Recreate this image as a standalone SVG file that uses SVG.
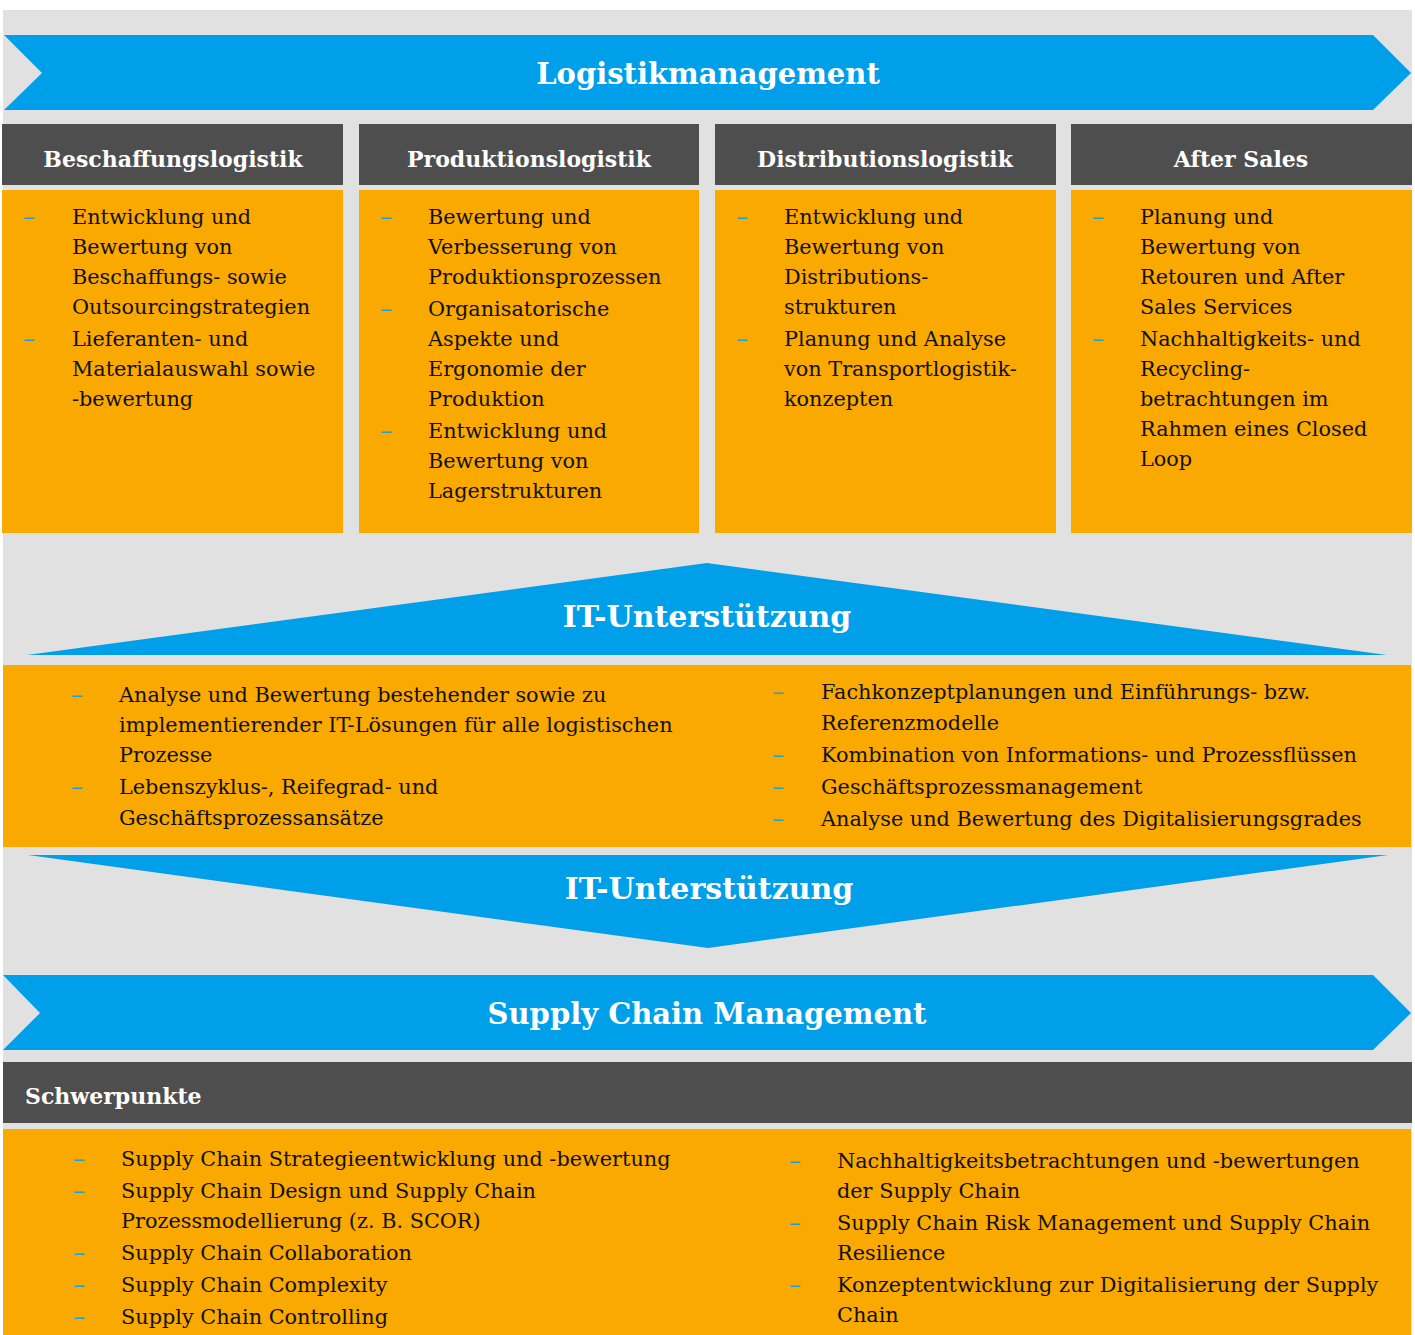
<svg xmlns="http://www.w3.org/2000/svg" width="1415" height="1335" viewBox="0 0 1415 1335">
<style>
.bg{fill:#e1e1e1}
.blue{fill:#009fe9}
.dark{fill:#4e4e4e}
.or{fill:#faa900}
.ttl{font-family:"DejaVu Serif",serif;font-weight:bold;fill:#ffffff;font-size:29px;text-anchor:middle}
.ttl2{font-family:"DejaVu Serif",serif;font-weight:bold;fill:#ffffff;font-size:30px;text-anchor:middle}
.hd{font-family:"DejaVu Serif",serif;font-weight:bold;fill:#ffffff;font-size:22px;text-anchor:middle}
.hdl{font-family:"DejaVu Serif",serif;font-weight:bold;fill:#ffffff;font-size:22px}
.t{font-family:"DejaVu Serif",serif;fill:#111111;font-size:20.8px}
.d{font-family:"DejaVu Serif",serif;fill:#1e9fd8;font-size:24px}
</style>
<rect class="bg" x="3" y="10" width="1409" height="1325"/>
<g id="logistikmanagement">
<polygon class="blue" points="4,35 1373,35 1411,73 1373,110 4,110 42,73"/>
<text class="ttl" x="708" y="84">Logistikmanagement</text>
</g>
<g id="beschaffungslogistik">
<rect class="dark" x="2" y="124" width="341" height="61"/>
<text class="hd" x="173" y="167">Beschaffungslogistik</text>
<rect class="or" x="2" y="190" width="341" height="343"/>
<text class="d" x="23" y="225">–</text>
<text class="t" x="72" y="224">Entwicklung und</text>
<text class="t" x="72" y="254">Bewertung von</text>
<text class="t" x="72" y="284">Beschaffungs- sowie</text>
<text class="t" x="72" y="314">Outsourcingstrategien</text>
<text class="d" x="23" y="347">–</text>
<text class="t" x="72" y="346">Lieferanten- und</text>
<text class="t" x="72" y="376">Materialauswahl sowie</text>
<text class="t" x="72" y="406">-bewertung</text>
</g>
<g id="produktionslogistik">
<rect class="dark" x="359" y="124" width="340" height="61"/>
<text class="hd" x="529" y="167">Produktionslogistik</text>
<rect class="or" x="359" y="190" width="340" height="343"/>
<text class="d" x="380" y="225">–</text>
<text class="t" x="428" y="224">Bewertung und</text>
<text class="t" x="428" y="254">Verbesserung von</text>
<text class="t" x="428" y="284">Produktionsprozessen</text>
<text class="d" x="380" y="317">–</text>
<text class="t" x="428" y="316">Organisatorische</text>
<text class="t" x="428" y="346">Aspekte und</text>
<text class="t" x="428" y="376">Ergonomie der</text>
<text class="t" x="428" y="406">Produktion</text>
<text class="d" x="380" y="439">–</text>
<text class="t" x="428" y="438">Entwicklung und</text>
<text class="t" x="428" y="468">Bewertung von</text>
<text class="t" x="428" y="498">Lagerstrukturen</text>
</g>
<g id="distributionslogistik">
<rect class="dark" x="715" y="124" width="341" height="61"/>
<text class="hd" x="885" y="167">Distributionslogistik</text>
<rect class="or" x="715" y="190" width="341" height="343"/>
<text class="d" x="736" y="225">–</text>
<text class="t" x="784" y="224">Entwicklung und</text>
<text class="t" x="784" y="254">Bewertung von</text>
<text class="t" x="784" y="284">Distributions-</text>
<text class="t" x="784" y="314">strukturen</text>
<text class="d" x="736" y="347">–</text>
<text class="t" x="784" y="346">Planung und Analyse</text>
<text class="t" x="784" y="376">von Transportlogistik-</text>
<text class="t" x="784" y="406">konzepten</text>
</g>
<g id="after-sales">
<rect class="dark" x="1071" y="124" width="341" height="61"/>
<text class="hd" x="1241" y="167">After Sales</text>
<rect class="or" x="1071" y="190" width="341" height="343"/>
<text class="d" x="1092" y="225">–</text>
<text class="t" x="1140" y="224">Planung und</text>
<text class="t" x="1140" y="254">Bewertung von</text>
<text class="t" x="1140" y="284">Retouren und After</text>
<text class="t" x="1140" y="314">Sales Services</text>
<text class="d" x="1092" y="347">–</text>
<text class="t" x="1140" y="346">Nachhaltigkeits- und</text>
<text class="t" x="1140" y="376">Recycling-</text>
<text class="t" x="1140" y="406">betrachtungen im</text>
<text class="t" x="1140" y="436">Rahmen eines Closed</text>
<text class="t" x="1140" y="466">Loop</text>
</g>
<g id="it-up">
<polygon class="blue" points="27,655 707,563 1387,655"/>
<text class="ttl2" x="707" y="627">IT-Unterstützung</text>
</g>
<g id="it-box">
<rect class="or" x="3" y="665" width="1408" height="182"/>
<text class="d" x="71" y="703">–</text>
<text class="t" x="119" y="702">Analyse und Bewertung bestehender sowie zu</text>
<text class="t" x="119" y="732">implementierender IT-Lösungen für alle logistischen</text>
<text class="t" x="119" y="762">Prozesse</text>
<text class="d" x="71" y="795">–</text>
<text class="t" x="119" y="794">Lebenszyklus-, Reifegrad- und</text>
<text class="t" x="119" y="825">Geschäftsprozessansätze</text>
<text class="d" x="772" y="700">–</text>
<text class="t" x="821" y="699">Fachkonzeptplanungen und Einführungs- bzw.</text>
<text class="t" x="821" y="730">Referenzmodelle</text>
<text class="d" x="772" y="763">–</text>
<text class="t" x="821" y="762">Kombination von Informations- und Prozessflüssen</text>
<text class="d" x="772" y="795">–</text>
<text class="t" x="821" y="794">Geschäftsprozessmanagement</text>
<text class="d" x="772" y="827">–</text>
<text class="t" x="821" y="826">Analyse und Bewertung des Digitalisierungsgrades</text>
</g>
<g id="it-down">
<polygon class="blue" points="28,855 1388,855 708,948"/>
<text class="ttl2" x="709" y="899">IT-Unterstützung</text>
</g>
<g id="supply-chain-management">
<polygon class="blue" points="3,975 1373,975 1411,1013 1373,1050 3,1050 40,1013"/>
<text class="ttl" x="707" y="1024">Supply Chain Management</text>
</g>
<g id="schwerpunkte">
<rect class="dark" x="3" y="1062" width="1409" height="61"/>
<text class="hdl" x="25" y="1104">Schwerpunkte</text>
<rect class="or" x="3" y="1129" width="1408" height="206"/>
<text class="d" x="73" y="1167">–</text>
<text class="t" x="121" y="1166">Supply Chain Strategieentwicklung und -bewertung</text>
<text class="d" x="73" y="1199">–</text>
<text class="t" x="121" y="1198">Supply Chain Design und Supply Chain</text>
<text class="t" x="121" y="1228">Prozessmodellierung (z. B. SCOR)</text>
<text class="d" x="73" y="1261">–</text>
<text class="t" x="121" y="1260">Supply Chain Collaboration</text>
<text class="d" x="73" y="1293">–</text>
<text class="t" x="121" y="1292">Supply Chain Complexity</text>
<text class="d" x="73" y="1325">–</text>
<text class="t" x="121" y="1324">Supply Chain Controlling</text>
<text class="d" x="789" y="1169">–</text>
<text class="t" x="837" y="1168">Nachhaltigkeitsbetrachtungen und -bewertungen</text>
<text class="t" x="837" y="1198">der Supply Chain</text>
<text class="d" x="789" y="1231">–</text>
<text class="t" x="837" y="1230">Supply Chain Risk Management und Supply Chain</text>
<text class="t" x="837" y="1260">Resilience</text>
<text class="d" x="789" y="1293">–</text>
<text class="t" x="837" y="1292">Konzeptentwicklung zur Digitalisierung der Supply</text>
<text class="t" x="837" y="1322">Chain</text>
</g>
<g id="connectors"/>
</svg>
